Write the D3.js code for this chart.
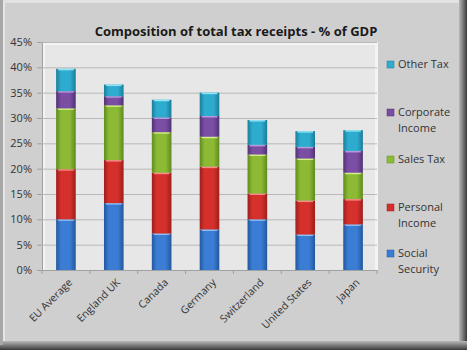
<!DOCTYPE html>
<html>
<head>
<meta charset="utf-8">
<script src="https://cdn.jsdelivr.net/npm/d3@7"></script>
<style>
body { margin: 0; background: #fff; }
svg text { font-family: "Open Sans", "DejaVu Sans", sans-serif; }
</style>
</head>
<body>
<svg width="467" height="350"></svg>
<script>
// data (% of GDP)
var countries = ['EU Average', 'England UK', 'Canada', 'Germany', 'Switzerland', 'United States', 'Japan'];
var seriesNames = ['Social Security', 'Personal Income', 'Sales Tax', 'Corporate Income', 'Other Tax'];
var socialSecurity = [10.0, 13.2, 7.2, 8.0, 10.0, 7.0, 9.0];
var personalIncome = [9.9, 8.5, 12.0, 12.4, 5.1, 6.7, 5.0];
var salesTax = [12.0, 10.8, 8.0, 5.9, 7.7, 8.3, 5.2];
var corporateIncome = [3.4, 1.8, 2.9, 4.1, 1.9, 2.3, 4.3];
var otherTax = [4.4, 2.3, 3.5, 4.6, 4.9, 3.1, 4.1];
var yTicks = [0, 5, 10, 15, 20, 25, 30, 35, 40, 45];

var colors = ['#3b7dd4', '#d6302c', '#8cba35', '#7a4ea2', '#2eaccf'];
var darks = ['#23579e', '#9c1f1c', '#5f8a1f', '#523276', '#1b7d99'];
var lights = ['#8ec0f5', '#f58c88', '#d4f08a', '#b79adb', '#8ee3f5'];

var allSeries = [socialSecurity, personalIncome, salesTax, corporateIncome, otherTax];
var table = countries.map(function(c, i) {
    var row = { country: c };
    seriesNames.forEach(function(s, j) { row[s] = allSeries[j][i]; });
    return row;
});
var stacked = d3.stack().keys(seriesNames)(table);

var svg = d3.select('svg');
var defs = svg.append('defs');

// frame
var fg = defs.append('linearGradient').attr('id', 'frameR').attr('x1', 0).attr('x2', 1);
fg.append('stop').attr('offset', 0).attr('stop-color', '#b8b8b8');
fg.append('stop').attr('offset', 1).attr('stop-color', '#3a3a3a');
var fb = defs.append('linearGradient').attr('id', 'frameB').attr('x1', 0).attr('x2', 0).attr('y1', 0).attr('y2', 1);
fb.append('stop').attr('offset', 0).attr('stop-color', '#b8b8b8');
fb.append('stop').attr('offset', 1).attr('stop-color', '#3a3a3a');

svg.append('rect').attr('width', 467).attr('height', 350).attr('fill', '#cfcfcf');
svg.append('rect').attr('x', 459).attr('y', 0).attr('width', 8).attr('height', 350).attr('fill', 'url(#frameR)');
svg.append('rect').attr('x', 0).attr('y', 341).attr('width', 467).attr('height', 9).attr('fill', 'url(#frameB)');
svg.append('rect').attr('x', 0).attr('y', 0).attr('width', 3).attr('height', 345).attr('fill', '#a8a8a8');
svg.append('rect').attr('x', 3).attr('y', 0).attr('width', 456).attr('height', 3).attr('fill', '#e2e2e2');
svg.append('rect').attr('x', 3).attr('y', 3).attr('width', 2).attr('height', 338).attr('fill', '#e6e6e6');

svg.append('text')
    .attr('x', 236).attr('y', 36)
    .attr('text-anchor', 'middle')
    .attr('font-size', '13px')
    .attr('font-weight', 'bold')
    .attr('fill', '#1a1a1a')
    .text('Composition of total tax receipts - % of GDP');

var plotL = 42, plotR = 377, plotT = 42, plotB = 270;

var x = d3.scaleBand().domain(countries).range([plotL, plotR]).paddingInner(0.59).paddingOuter(0.295);
var y = d3.scaleLinear().domain([0, 45]).range([plotB, plotT]);

// plot wall
svg.append('rect').attr('x', plotL).attr('y', plotT).attr('width', plotR - plotL + 1).attr('height', plotB - plotT)
    .attr('fill', '#f4f4f4');
svg.append('rect').attr('x', plotL + 3).attr('y', plotT + 3).attr('width', plotR - plotL - 5).attr('height', plotB - plotT - 3)
    .attr('fill', '#e7e7e7');

// gridlines + y axis
var yAxis = svg.append('g')
    .attr('transform', 'translate(' + plotL + ',0)')
    .call(d3.axisLeft(y).tickValues(yTicks).tickSize(-(plotR - plotL)).tickFormat(function(d) { return d + '%'; }));
yAxis.select('.domain').attr('stroke', '#a0a0a0');
yAxis.selectAll('.tick line').attr('stroke', '#b8b8b8');
yAxis.selectAll('.tick text').attr('x', -10).attr('font-size', '11px').attr('fill', '#333').attr('font-family', '"Open Sans", sans-serif');
yAxis.selectAll('.tick').append('line').attr('x1', -5).attr('x2', 0).attr('stroke', '#a0a0a0');

// gradients for bars
colors.forEach(function(c, i) {
    var g = defs.append('linearGradient').attr('id', 'bar' + i).attr('x1', 0).attr('x2', 1);
    g.append('stop').attr('offset', 0).attr('stop-color', darks[i]);
    g.append('stop').attr('offset', 0.25).attr('stop-color', c);
    g.append('stop').attr('offset', 0.7).attr('stop-color', c);
    g.append('stop').attr('offset', 1).attr('stop-color', darks[i]);
});

var layers = svg.selectAll('.layer')
    .data(stacked)
    .enter()
    .append('g')
    .attr('class', 'layer');

layers.selectAll('rect.seg')
    .data(function(d, i) { return d.map(function(p) { return { p: p, i: i }; }); })
    .enter()
    .append('rect')
    .attr('class', 'seg')
    .attr('x', function(d) { return x(d.p.data.country); })
    .attr('y', function(d) { return y(d.p[1]); })
    .attr('width', x.bandwidth())
    .attr('height', function(d) { return y(d.p[0]) - y(d.p[1]); })
    .attr('fill', function(d) { return 'url(#bar' + d.i + ')'; });

layers.selectAll('rect.hi')
    .data(function(d, i) { return d.map(function(p) { return { p: p, i: i }; }); })
    .enter()
    .append('rect')
    .attr('class', 'hi')
    .attr('x', function(d) { return x(d.p.data.country) + 2; })
    .attr('y', function(d) { return y(d.p[1]); })
    .attr('width', x.bandwidth() - 4)
    .attr('height', 1.5)
    .attr('fill', function(d) { return lights[d.i]; });

// x axis
var xAxis = svg.append('g')
    .attr('transform', 'translate(0,' + plotB + ')')
    .call(d3.axisBottom(x).tickSize(0));
xAxis.select('.domain').attr('stroke', '#a0a0a0');
xAxis.selectAll('.tick text')
    .attr('font-size', '10.5px')
    .attr('fill', '#333')
    .attr('text-anchor', 'end')
    .attr('dy', 0)
    .attr('transform', 'translate(5,11) rotate(-45)');
x.domain().forEach(function(c, i) {
    var bx = x(c) - x.step() * x.paddingInner() / 2;
    svg.append('line').attr('x1', bx).attr('x2', bx).attr('y1', plotB).attr('y2', plotB + 4).attr('stroke', '#a0a0a0');
});
svg.append('line').attr('x1', plotR).attr('x2', plotR).attr('y1', plotB).attr('y2', plotB + 4).attr('stroke', '#a0a0a0');

// legend
var legendY = [64, 112, 159, 207, 253];
var legendLines = [['Other Tax'], ['Corporate', 'Income'], ['Sales Tax'], ['Personal', 'Income'], ['Social', 'Security']];
var legendIdx = [4, 3, 2, 1, 0];
var leg = svg.selectAll('.leg')
    .data(legendIdx)
    .enter()
    .append('g')
    .attr('class', 'leg')
    .attr('transform', function(d, i) { return 'translate(390,' + legendY[i] + ')'; });
leg.append('rect').attr('x', -3).attr('y', -3).attr('width', 7).attr('height', 7)
    .attr('fill', function(d) { return colors[d]; })
    .attr('stroke', function(d) { return darks[d]; }).attr('stroke-width', 0.5);
leg.append('text')
    .attr('x', 8)
    .attr('font-size', '11px')
    .attr('fill', '#333')
    .selectAll('tspan')
    .data(function(d, i) { return legendLines[i]; })
    .enter()
    .append('tspan')
    .attr('x', 8)
    .attr('y', function(d, j) { return 4 + j * 15.5; })
    .text(function(d) { return d; });
</script>
</body>
</html>
